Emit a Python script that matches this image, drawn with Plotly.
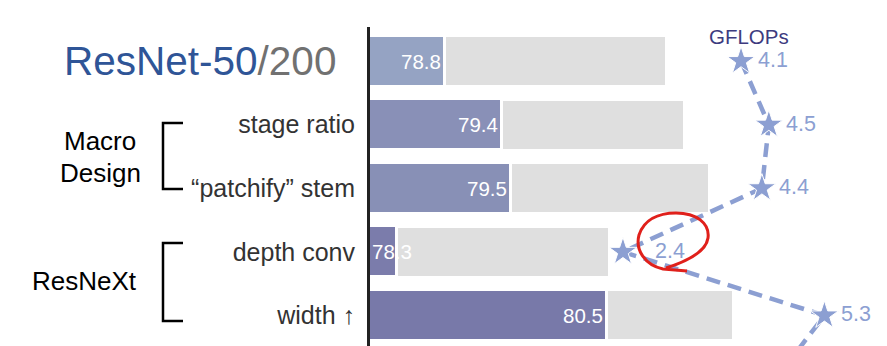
import plotly.graph_objects as go

# ---------------- data ----------------
rows = ["ResNet-50/200", "stage ratio", "\u201cpatchify\u201d stem", "depth conv", "width \u2191"]
acc_small = [78.8, 79.4, 79.5, 78.3, 80.5]          # ResNet-50 regime (coloured bars)
acc_large = [81.11, 81.30, 81.57, 80.52, 81.82]     # ResNet-200 regime (grey bars)
bar_colors = ["#95a3c3", "#8990b7", "#8890b6", "#7b7cab", "#7879a9"]
gflops = [4.1, 4.5, 4.4, 2.4, 5.3, 4.6]             # last point continues below the view
gflops_rows = [0, 1, 2, 3, 4, 5]
gflops_label_gap = [15, 15, 15, 30, 15, 15]         # label offset from the star, px

# ---------------- layout geometry ----------------
W, H = 887, 346
L, R, T, B = 370, 887, 27, 346
X_RANGE = [78.015, 78.015 + (R - L) / 95.2]
X2_RANGE = [-1.241, 6.201]
Y_RANGE = [4.48, -0.536]
FONT = "Liberation Sans, Arial, Helvetica, sans-serif"
STAR = "#8c9fd2"


def pxx(x):
    return (x - L) / (R - L)


def pxy(y):
    return 1 - (y - T) / (B - T)


yidx = list(range(len(rows)))

fig = go.Figure()
fig.add_trace(go.Bar(
    y=yidx, x=acc_large, orientation="h", width=0.755,
    marker=dict(color="#dfdfdf", line=dict(width=0)),
    hoverinfo="skip", xaxis="x", yaxis="y"))
fig.add_trace(go.Bar(
    y=yidx, x=acc_small, orientation="h", width=0.80,
    marker=dict(color=bar_colors, line=dict(color="white", width=3)),
    hoverinfo="skip", xaxis="x", yaxis="y"))
fig.add_trace(go.Scatter(
    x=gflops, y=gflops_rows, xaxis="x2", yaxis="y",
    mode="lines+markers",
    line=dict(color=STAR, width=4.5, dash="14px,8px"),
    marker=dict(symbol="star", size=21, color=STAR, line=dict(color="white", width=1)),
    cliponaxis=True, hoverinfo="skip"))

annotations = []
# bar value labels
for i, v in enumerate(acc_small):
    short = (v - X_RANGE[0]) < 0.5
    annotations.append(dict(
        x=X_RANGE[0] if short else v, y=i, xref="x", yref="y",
        text=f"{v:.1f}", showarrow=False,
        xanchor="left" if short else "right", xshift=0 if short else -2,
        font=dict(family=FONT, size=20.5, color="white")))

# GFLOPs value labels (only rows inside the view)
for g, r, gap in zip(gflops, gflops_rows, gflops_label_gap):
    if r > Y_RANGE[0]:
        continue
    annotations.append(dict(
        x=g, y=r, xref="x2", yref="y", text=str(g), showarrow=False,
        xanchor="left", xshift=gap, yshift=1,
        font=dict(family=FONT, size=21.5, color=STAR)))

# big title row label
annotations.append(dict(
    x=pxx(338), y=pxy(61), xref="paper", yref="paper", xanchor="right", yanchor="middle",
    text='<span style="color:#2f5597">ResNet-50</span><span style="color:#717171">/200</span>',
    showarrow=False, font=dict(family=FONT, size=40.5)))
# group labels
for txt, xc, yc in [("Macro", 100, 141), ("Design", 100, 173), ("ResNeXt", 84, 281)]:
    annotations.append(dict(x=pxx(xc), y=pxy(yc), xref="paper", yref="paper",
                            xanchor="center", yanchor="middle", text=txt, showarrow=False,
                            font=dict(family=FONT, size=26, color="black")))
# GFLOPs title
annotations.append(dict(x=pxx(749), y=pxy(37), xref="paper", yref="paper",
                        xanchor="center", yanchor="middle", text="GFLOPs", showarrow=False,
                        font=dict(family=FONT, size=20.5, color="#3d3b7f")))


def path(points):
    s = ""
    for cmd, pts in points:
        s += cmd + " ".join(f"{pxx(a):.5f},{pxy(b):.5f}" for a, b in pts) + " "
    return s.strip()


shapes = []
for y0, y1 in [(123, 189), (243, 321)]:
    shapes.append(dict(type="path", xref="paper", yref="paper",
                       path=path([("M", [(183, y0)]), ("L", [(163, y0)]), ("L", [(163, y1)]), ("L", [(183, y1)])]),
                       line=dict(color="black", width=2.5)))
# red hand-drawn loop around 2.4
red = path([
    ("M", [(687, 271)]),
    ("L", [(663, 269)]),
    ("C", [(645, 265), (635, 250), (639, 235)]),
    ("C", [(644, 220), (658, 213), (676, 213)]),
    ("C", [(696, 213), (710, 223), (708, 238)]),
    ("C", [(706, 252), (688, 261), (666, 268)]),
])
shapes.append(dict(type="path", xref="paper", yref="paper", path=red,
                   line=dict(color="#e0201b", width=3)))

fig.update_layout(
    width=W, height=H,
    margin=dict(l=L, r=W - R, t=T, b=H - B, pad=0),
    paper_bgcolor="white", plot_bgcolor="white",
    barmode="overlay", bargap=0, showlegend=False, hovermode=False,
    xaxis=dict(range=X_RANGE, visible=False, fixedrange=True),
    xaxis2=dict(range=X2_RANGE, overlaying="x", side="top", visible=False),
    yaxis=dict(range=Y_RANGE, showgrid=False, zeroline=False, showline=True,
               linecolor="#222222", linewidth=3, ticks="",
               tickvals=yidx[1:], ticktext=rows[1:], ticklabelstandoff=7,
               tickfont=dict(family=FONT, size=25, color="#333333")),
    annotations=annotations, shapes=shapes,
)

fig.write_html("out.html")
